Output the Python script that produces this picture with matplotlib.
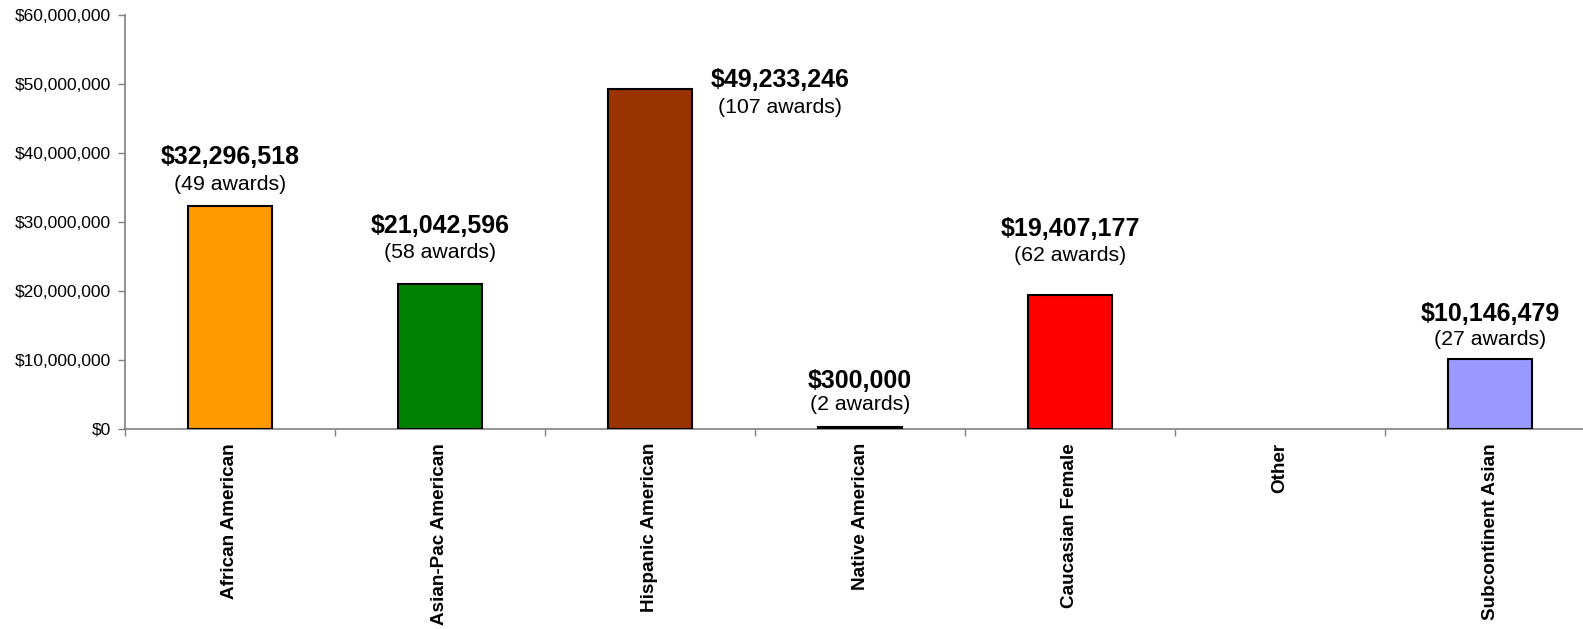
import matplotlib
matplotlib.use("Agg")
import matplotlib.pyplot as plt
from matplotlib.ticker import FuncFormatter, FixedLocator
import numpy as np

categories = ["African American", "Asian-Pac American", "Hispanic American",
              "Native American", "Caucasian Female", "Other", "Subcontinent Asian"]
amounts = [32296518, 21042596, 49233246, 300000, 19407177, 0, 10146479]
awards = [49, 58, 107, 2, 62, None, 27]
colors = ["#FF9900", "#008000", "#993300", "#000000", "#FF0000", "#FFFFFF", "#9999FF"]

# label placement (data coords): x offset from bar centre, baseline of value line, baseline of awards line
label_dx = [0, 0, 0.62, 0, 0, 0, 0]
label_y_val = [38.36e6, 28.36e6, 49.61e6, 5.94e6, 28.01e6, 0, 15.70e6]
label_y_aw = [34.64e6, 24.74e6, 45.80e6, 2.75e6, 24.42e6, 0, 12.17e6]

plt.rcParams['font.family'] = ['Liberation Sans', 'DejaVu Sans']

fig = plt.figure(figsize=(15.83, 6.29), dpi=100)
ax = fig.add_axes([125/1583, 1 - 429/629, 1470/1583, 414/629])

x = np.arange(len(categories))
lws = [1.5 if a > 0 else 0 for a in amounts]
ax.bar(x, amounts, width=0.4, color=colors, edgecolor="black", linewidth=lws, zorder=3)

ax.set_xlim(-0.5, len(categories) - 0.5)
ax.set_ylim(0, 60e6)
ax.yaxis.set_major_locator(FixedLocator(np.arange(0, 60e6 + 1, 10e6)))
ax.yaxis.set_major_formatter(FuncFormatter(lambda v, p: "${:,.0f}".format(v)))

ax.set_xticks(x)
ax.set_xticklabels(categories, rotation=90, va="top", fontsize=13.6, fontweight="bold")
ax.xaxis.set_minor_locator(FixedLocator(np.arange(-0.5, len(categories) + 0.5, 1)))
ax.tick_params(axis="x", which="major", length=0, pad=10)
ax.tick_params(axis="x", which="minor", length=5, width=1, color="#808080", direction="out")
ax.tick_params(axis="y", length=5, width=1, color="#808080", labelsize=12.5, pad=5)

for s in ["top", "right"]:
    ax.spines[s].set_visible(False)
for s in ["left", "bottom"]:
    ax.spines[s].set_color("#808080")
    ax.spines[s].set_linewidth(1.2)

for i, (amt, aw) in enumerate(zip(amounts, awards)):
    if aw is None:
        continue
    ax.text(x[i] + label_dx[i], label_y_val[i], "${:,}".format(amt), ha="center", va="baseline",
            fontsize=18, fontweight="bold", zorder=4)
    ax.text(x[i] + label_dx[i], label_y_aw[i], "({} awards)".format(aw), ha="center", va="baseline",
            fontsize=15.3, zorder=4)

fig.savefig("out.png", dpi=100)
